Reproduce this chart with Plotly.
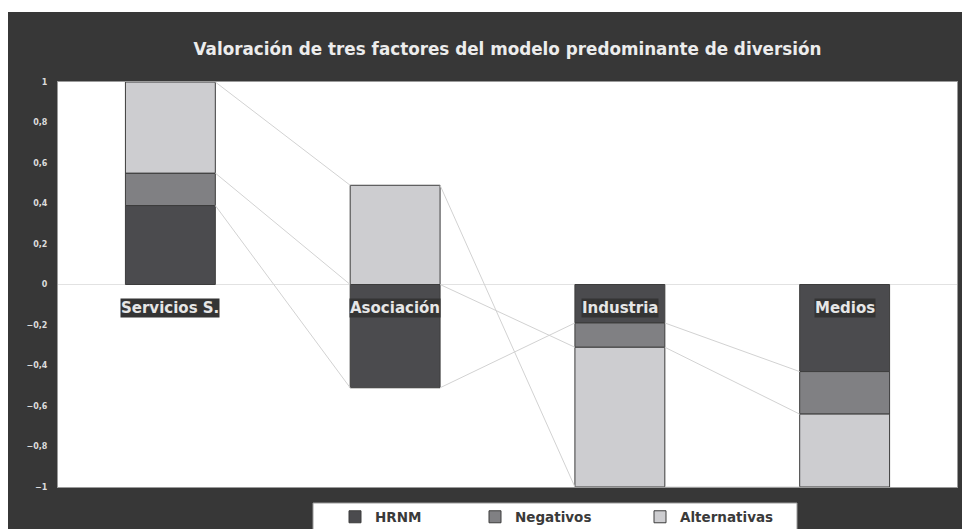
import plotly.graph_objects as go

categories = ["Servicios S.", "Asociación", "Industria", "Medios"]
series_names = ["HRNM", "Negativos", "Alternativas"]
hrnm = [0.39, -0.51, -0.19, -0.43]
negativos = [0.16, 0.0, -0.12, -0.21]
alternativas = [0.45, 0.49, -0.69, -0.36]
y_ticks = [-1, -0.8, -0.6, -0.4, -0.2, 0, 0.2, 0.4, 0.6, 0.8, 1]
title_text = "Valoración de tres factores del modelo predominante de diversión"

values = [hrnm, negativos, alternativas]
colors = ["#4b4b4e", "#808083", "#cdcdd0"]
FRAME = "#373737"
FONT = "DejaVu Sans"
BAR_W = 0.4

W, H = 962, 529
ML, MR, MT, MB = 58, 5, 82, 42
PW, PH = W - ML - MR, H - MT - MB


def px_x(p):
    return (p - ML) / PW


def px_y(p):
    return (H - MB - p) / PH


xs = list(range(len(categories)))
fig = go.Figure()

legend_ids = ["legend", "legend2", "legend3"]
for name, vals, col, lid in zip(series_names, values, colors, legend_ids):
    fig.add_trace(go.Bar(
        x=xs, y=vals, name=name, width=BAR_W,
        marker=dict(color=col, line=dict(color="#3c3c3c", width=1)),
        legend=lid, hoverinfo="skip",
    ))

# series lines (cumulative ends of each series, positive / negative stacked separately)
ends = [[0.0] * len(categories) for _ in series_names]
for c in range(len(categories)):
    pos, neg = 0.0, 0.0
    for s in range(len(series_names)):
        v = values[s][c]
        if v >= 0:
            pos += v
            ends[s][c] = pos
        else:
            neg += v
            ends[s][c] = neg

lx, ly = [], []
for s in range(len(series_names)):
    for c in range(len(categories) - 1):
        lx += [c + BAR_W / 2, c + 1 - BAR_W / 2, None]
        ly += [ends[s][c], ends[s][c + 1], None]
fig.add_trace(go.Scatter(x=lx, y=ly, mode="lines", line=dict(color="#d2d2d2", width=1),
                         showlegend=False, hoverinfo="skip"))

# category labels
for i, cat in enumerate(categories):
    fig.add_annotation(x=i, y=-0.115, xref="x", yref="y", text=cat, showarrow=False,
                       font=dict(family=FONT, size=15, color="#e6e6e6", weight="bold"),
                       bgcolor="#343434", borderpad=0)

# white outer strips (frame does not reach top/left edge)
fig.add_shape(type="rect", xref="paper", yref="paper", layer="below",
              x0=px_x(-5), x1=px_x(W + 5), y0=px_y(12), y1=px_y(-5),
              fillcolor="white", line=dict(width=0))
fig.add_shape(type="rect", xref="paper", yref="paper", layer="below",
              x0=px_x(-5), x1=px_x(8), y0=px_y(H + 5), y1=px_y(-5),
              fillcolor="white", line=dict(width=0))
# legend box
fig.add_shape(type="rect", xref="paper", yref="paper", layer="below",
              x0=px_x(313), x1=px_x(797), y0=px_y(H + 10), y1=px_y(503),
              fillcolor="white", line=dict(color="#9a9a9a", width=1))

leg_common = dict(orientation="h", xanchor="left", yanchor="middle", bgcolor="rgba(0,0,0,0)",
                  xref="container", yref="container",
                  borderwidth=0, font=dict(family=FONT, size=13.5, color="#3a3a3a", weight="bold"))
LEG_Y = 1 - 517 / H
fig.update_layout(
    legend=dict(x=(339 - 4) / W, y=LEG_Y, **leg_common),
    legend2=dict(x=(478 - 3) / W, y=LEG_Y, **leg_common),
    legend3=dict(x=(643 - 3) / W, y=LEG_Y, **leg_common),
)

fig.update_layout(
    width=W, height=H,
    margin=dict(l=ML, r=MR, t=MT, b=MB, pad=0, autoexpand=False),
    paper_bgcolor=FRAME, plot_bgcolor="white",
    barmode="relative", bargap=0.6,
    separators=",.",
    title=dict(text=title_text, x=px_x((ML + W - MR) / 2), xref="paper",
               y=1 - 49 / H, yref="container", xanchor="center", yanchor="middle",
               font=dict(family=FONT, size=16.8, color="#ececec", weight="bold")),
    xaxis=dict(range=[-0.5, len(categories) - 0.5], showticklabels=False, ticks="",
               showgrid=False, zeroline=False, showline=True, mirror=True,
               linecolor="#9a9a9a", linewidth=1, fixedrange=True),
    yaxis=dict(range=[-1, 1], tickvals=y_ticks, showgrid=False,
               zeroline=True, zerolinecolor="#e2e2e2", zerolinewidth=1,
               showline=True, mirror=True, linecolor="#9a9a9a", linewidth=1,
               ticks="", ticklabelstandoff=8,
               tickfont=dict(family=FONT, size=8, color="#dcdcdc", weight="bold")),
    showlegend=True,
)

fig.write_html("out.html")
